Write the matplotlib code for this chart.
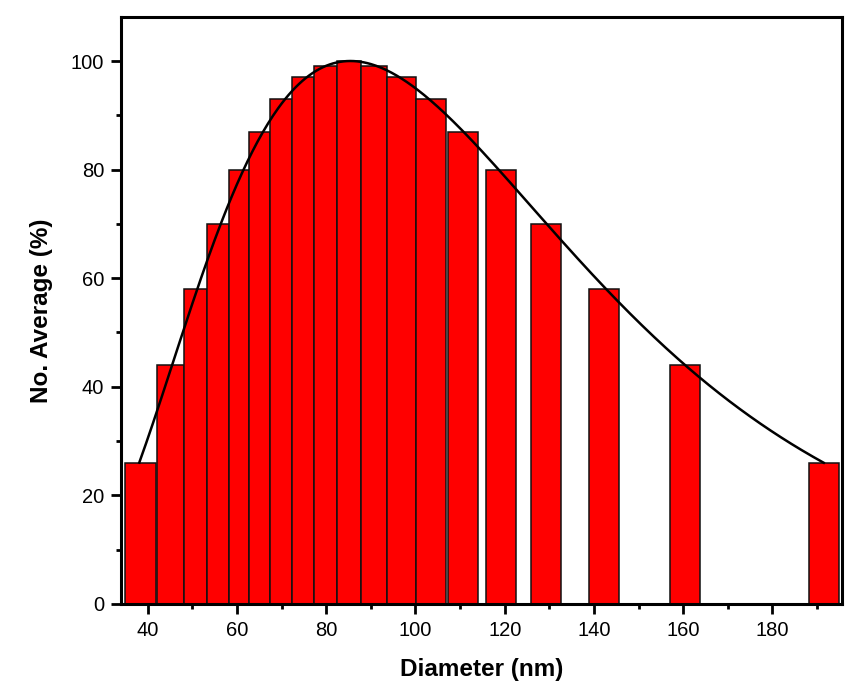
import numpy as np
import matplotlib
matplotlib.use("Agg")
import matplotlib.pyplot as plt
from matplotlib.ticker import MultipleLocator

# bin edges (nm) and number-average values (%)
bin_left = [34.9, 42.15, 48.2, 53.35, 58.3, 62.65, 67.5, 72.3, 77.2, 82.4,
            87.75, 93.6, 100.15, 107.4, 115.8, 125.9, 138.8, 156.95, 188.2]
bin_right = [41.8, 48.2, 53.35, 58.3, 62.65, 67.5, 72.3, 77.2, 82.4, 87.75,
             93.6, 100.15, 106.9, 114.1, 122.5, 132.6, 145.5, 163.7, 194.85]
no_average = [26, 44, 58, 70, 80, 87, 93, 97, 99, 100,
              99, 97, 93, 87, 80, 70, 58, 44, 26]

# log-normal fit
fit_xc = 85.4
fit_w = 0.492
fit_amp = 100.0
fit_range = (38.1, 191.5)

plt.rcParams["font.family"] = ["Liberation Sans", "DejaVu Sans"]

fig = plt.figure(figsize=(8.61, 6.92), dpi=100)
ax = fig.add_axes([0.1405, 0.1272, 0.978 - 0.1405, 0.9754 - 0.1272])

left = np.array(bin_left)
width = np.array(bin_right) - left
ax.bar(left, no_average, width=width, align="edge", color="#ff0000",
       edgecolor="#111111", linewidth=1.1, zorder=2)

xs = np.linspace(*fit_range, 400)
ys = fit_amp * np.exp(-np.log(xs / fit_xc) ** 2 / (2 * fit_w ** 2))
ax.plot(xs, ys, color="black", linewidth=1.8, zorder=3)

ax.set_xlim(34, 195.6)
ax.set_ylim(0, 108.1)
ax.xaxis.set_major_locator(MultipleLocator(20))
ax.xaxis.set_minor_locator(MultipleLocator(10))
ax.yaxis.set_major_locator(MultipleLocator(20))
ax.yaxis.set_minor_locator(MultipleLocator(10))
ax.tick_params(which="major", direction="out", length=7, width=2.0,
               labelsize=14.5, pad=5)
ax.tick_params(which="minor", direction="out", length=3.5, width=2.0)
for s in ax.spines.values():
    s.set_linewidth(2.2)

ax.set_xlabel("Diameter (nm)", fontsize=17.5, fontweight="bold", labelpad=13)
ax.set_ylabel("No. Average (%)", fontsize=17.5, fontweight="bold", labelpad=13)

fig.savefig("out.png", dpi=100)
